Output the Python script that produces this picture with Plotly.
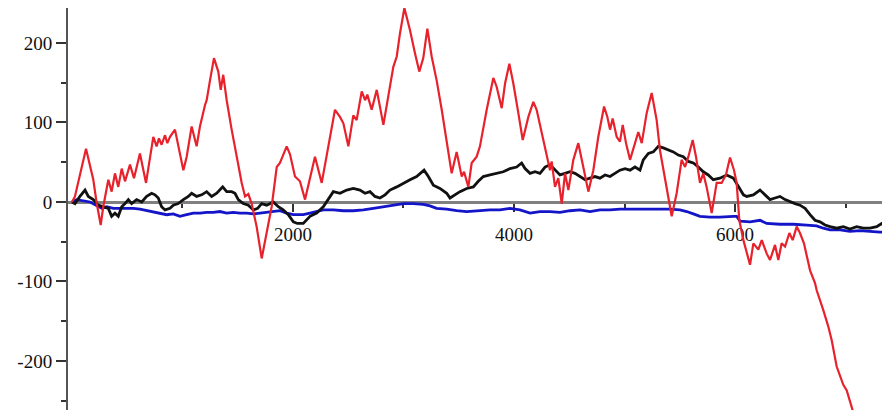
import plotly.graph_objects as go

# ---- data ----
red_x = [0, 27, 127, 163, 193, 223, 260, 283, 329, 359, 389, 419, 450, 480, 525, 561, 615, 670, 736, 766,
         787, 811, 842, 863, 887, 932, 1008, 1038, 1083, 1128, 1158, 1204, 1219, 1249, 1285, 1324, 1346, 1369,
         1400, 1445, 1490, 1536, 1566, 1596, 1626, 1671, 1717, 1762, 1807, 1853, 1882, 1943, 1973, 2018, 2063,
         2109, 2154, 2199, 2260, 2320, 2380, 2425, 2456, 2501, 2546, 2576, 2622, 2652, 2673, 2712, 2758, 2818,
         2863, 2908, 2939, 2968, 3008, 3059, 3104, 3143, 3179, 3216, 3255, 3300, 3346, 3391, 3436, 3481, 3527,
         3548, 3587, 3617, 3662, 3692, 3753, 3813, 3843, 3889, 3919, 3958, 3994, 4039, 4079, 4130, 4175, 4205,
         4251, 4296, 4326, 4341, 4371, 4401, 4432, 4462, 4492, 4537, 4582, 4627, 4673, 4718, 4763, 4815, 4845,
         4869, 4893, 4929, 4959, 4984, 5014, 5050, 5095, 5125, 5156, 5201, 5246, 5291, 5321, 5367, 5427, 5472,
         5517, 5548, 5578, 5617, 5647, 5683, 5713, 5743, 5789, 5834, 5879, 5918, 5955, 5991, 6015, 6039, 6076,
         6136, 6166, 6211, 6242, 6287, 6317, 6362, 6392, 6422, 6453, 6492, 6522, 6558, 6588, 6624, 6649, 6679,
         6724, 6739, 6799, 6845, 6875, 6920, 6980, 7011, 7056, 7080]
red_y = [0, 7, 67, 44, 28, -1, -29, -6, 28, 13, 36, 19, 42, 26, 47, 30, 61, 24, 82, 70,
         80, 72, 84, 74, 82, 91, 40, 57, 95, 70, 95, 122, 128, 153, 181, 164, 141, 160,
         128, 91, 57, 24, 7, 10, -2, -31, -71, -39, -6, 44, 49, 70, 60, 32, 26,
         3, 32, 57, 24, 70, 116, 107, 99, 70, 109, 103, 139, 128, 135, 116, 141, 97,
         132, 170, 183, 212, 244, 216, 187, 164, 181, 218, 183, 153, 116, 78, 36, 63, 32,
         38, 19, 49, 57, 70, 116, 156, 145, 118, 149, 174, 149, 112, 78, 107, 126, 116,
         86, 57, 40, 51, 19, 30, -2, 36, 15, 53, 74, 44, 13, 40, 82, 120, 107,
         91, 105, 82, 76, 97, 74, 53, 74, 88, 74, 112, 137, 103, 65, 28, -18, 11,
         53, 44, 57, 78, 57, 24, 36, 19, -14, 24, 24, 34, 56, 40, 24, -23, -48,
         -79, -52, -60, -48, -65, -73, -54, -73, -52, -56, -39, -48, -31, -39, -52, -69, -86,
         -102, -111, -136, -157, -174, -207, -230, -237, -258, -270]

black_x = [0, 27, 72, 118, 148, 193, 238, 283, 329, 359, 389, 419, 450, 480, 510, 540, 585, 631, 676, 721,
           751, 781, 811, 842, 887, 917, 962, 1008, 1053, 1083, 1128, 1174, 1219, 1264, 1310, 1364, 1400, 1445,
           1475, 1505, 1550, 1596, 1641, 1680, 1717, 1762, 1822, 1867, 1912, 1958, 2003, 2039, 2093, 2154, 2214,
           2274, 2320, 2365, 2425, 2486, 2546, 2606, 2652, 2697, 2742, 2787, 2833, 2878, 2939, 2999, 3059, 3119,
           3186, 3225, 3270, 3330, 3391, 3421, 3466, 3511, 3572, 3632, 3677, 3722, 3783, 3843, 3903, 3964, 4024,
           4069, 4100, 4145, 4190, 4235, 4281, 4326, 4371, 4416, 4462, 4507, 4552, 4597, 4643, 4688, 4733, 4778,
           4824, 4869, 4914, 4959, 5005, 5050, 5095, 5140, 5170, 5216, 5261, 5306, 5351, 5397, 5442, 5487, 5532,
           5578, 5623, 5668, 5713, 5758, 5803, 5864, 5924, 5985, 6030, 6076, 6106, 6166, 6226, 6271, 6317, 6362,
           6407, 6453, 6498, 6543, 6588, 6634, 6679, 6724, 6769, 6815, 6860, 6920, 6980, 7040, 7101, 7161, 7222,
           7282, 7327, 7357, 7387, 7402]
black_y = [0, -2, 7, 15, 7, 3, -4, -6, -8, -18, -14, -18, -6, -2, 3, -2, 3, 0, 7, 11,
           9, 5, -6, -10, -8, -4, -2, 3, 7, 11, 7, 9, 13, 7, 11, 19, 13, 13,
           11, 3, -2, -4, -10, -8, -2, -4, 0, -6, -10, -16, -25, -27, -27, -18, -14,
           -6, 3, 13, 11, 15, 17, 15, 11, 13, 7, 5, 9, 15, 19, 24, 28, 32,
           40, 32, 21, 17, 11, 5, 9, 13, 17, 19, 26, 32, 34, 36, 38, 42, 44,
           49, 42, 36, 38, 36, 44, 47, 40, 34, 36, 38, 36, 32, 28, 30, 32, 30,
           34, 32, 36, 40, 42, 40, 44, 40, 53, 61, 63, 70, 68, 65, 63, 59, 57,
           51, 49, 44, 38, 34, 28, 30, 34, 30, 19, 9, 7, 9, 15, 9, 3, 5,
           7, 3, 0, -2, -4, -8, -16, -23, -25, -29, -31, -33, -31, -34, -31, -33, -33,
           -31, -27, -31, -23, -20]

blue_x = [0, 42, 163, 223, 269, 314, 374, 434, 495, 555, 615, 676, 736, 796, 857, 917, 977, 1038, 1098, 1159,
          1219, 1279, 1339, 1400, 1460, 1520, 1580, 1641, 1701, 1762, 1822, 1882, 1943, 2003, 2063, 2093, 2154,
          2214, 2274, 2365, 2456, 2546, 2637, 2727, 2818, 2908, 2999, 3089, 3179, 3240, 3300, 3391, 3481, 3572,
          3662, 3783, 3873, 3964, 4054, 4145, 4235, 4326, 4416, 4507, 4597, 4688, 4778, 4869, 4959, 5050, 5140,
          5231, 5321, 5412, 5502, 5563, 5623, 5683, 5773, 5864, 5985, 6015, 6045, 6136, 6226, 6287, 6407, 6528,
          6649, 6739, 6799, 6860, 6951, 7040, 7131, 7222, 7312, 7402]
blue_y = [0, 3, 0, -4, -8, -6, -8, -8, -8, -8, -9, -11, -12, -14, -16, -15, -18, -16, -14, -14,
          -13, -13, -12, -14, -13, -14, -14, -15, -14, -13, -12, -11, -14, -16, -16, -16, -14,
          -12, -10, -10, -11, -11, -10, -8, -6, -4, -2, -2, -3, -5, -8, -9, -11, -12,
          -11, -10, -10, -8, -10, -14, -12, -12, -13, -11, -10, -12, -10, -10, -9, -9, -9,
          -9, -9, -9, -10, -12, -15, -18, -19, -19, -18, -18, -24, -25, -23, -27, -28, -28,
          -29, -30, -33, -35, -35, -37, -36, -37, -38, -37]

x_ticks = [2000, 4000, 6000]
x_minor = [1000, 3000, 5000, 7000]
y_ticks = [-200, -100, 0, 100, 200]
y_ticktext = ["-200", "-100", "0", "100", "200"]
y_minor = [-250, -150, -50, 50, 150]

# ---- figure ----
# the page body adds an 8px offset; the ranges below account for it
Y_MIN, Y_MAX = -271.7, 244.0
X_MIN, X_MAX = -36, 7475
FONT = dict(family="Liberation Serif", size=19, color="#111111")

fig = go.Figure()
fig.add_trace(go.Scatter(x=blue_x, y=blue_y, mode="lines",
                         line=dict(color="#1414c8", width=2.8)))
fig.add_trace(go.Scatter(x=black_x, y=black_y, mode="lines",
                         line=dict(color="#111111", width=2.8)))
fig.add_trace(go.Scatter(x=red_x, y=red_y, mode="lines",
                         line=dict(color="#e8222c", width=2.2)))

fig.update_layout(
    width=890, height=410,
    margin=dict(l=60, r=0, t=0, b=0, autoexpand=False),
    paper_bgcolor="white", plot_bgcolor="white",
    showlegend=False,
    xaxis=dict(
        range=[X_MIN, X_MAX], anchor="free", automargin=False,
        position=(0 - Y_MIN) / (Y_MAX - Y_MIN),
        showline=True, linecolor="#808080", linewidth=3,
        showgrid=False, zeroline=False,
        tickmode="array", tickvals=x_ticks,
        ticks="outside", ticklen=8, tickwidth=1.5, tickcolor="#333333",
        minor=dict(tickmode="array", tickvals=x_minor, ticks="outside",
                   ticklen=4, tickwidth=1.5, tickcolor="#333333"),
        tickfont=FONT, ticklabelstandoff=6,
        layer="below traces",
    ),
    yaxis=dict(
        range=[Y_MIN, Y_MAX], automargin=False,
        showline=True, linecolor="#555555", linewidth=2,
        showgrid=False, zeroline=False,
        tickmode="array", tickvals=y_ticks, ticktext=y_ticktext,
        ticks="outside", ticklen=10, tickwidth=2, tickcolor="#333333",
        minor=dict(tickmode="array", tickvals=y_minor, ticks="outside",
                   ticklen=5, tickwidth=2, tickcolor="#333333"),
        tickfont=FONT,
    ),
)

fig.write_html("out.html")
